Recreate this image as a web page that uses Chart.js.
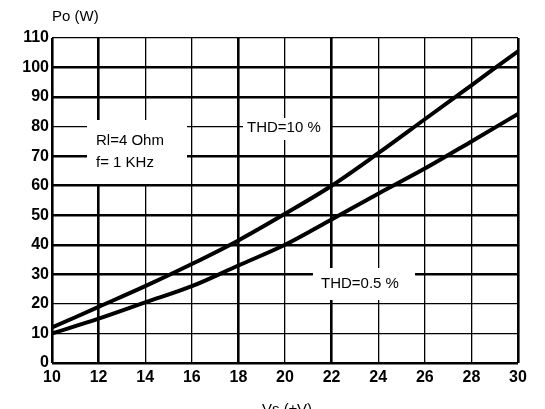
<!DOCTYPE html>
<html>
<head>
<meta charset="utf-8">
<script src="https://cdn.jsdelivr.net/npm/chart.js@4/dist/chart.umd.min.js"></script>
<style>
  html, body { margin: 0; padding: 0; background: #fff; }
  #wrap { position: relative; width: 545px; height: 409px; }
</style>
</head>
<body>
<div id="wrap"><canvas id="chart" width="545" height="409"></canvas></div>
<script>
// datos
const supplyVolts = [10, 12, 14, 16, 18, 20, 22, 24, 26, 28, 30];
const powerThd10 = [12, 19, 26, 33.5, 41.5, 50.5, 60, 71, 82.5, 94, 105.5];
const powerThd05 = [10, 15, 20.5, 26, 33, 40, 48.6, 57.3, 65.8, 75, 84.3];
const yTicks = [0, 10, 20, 30, 40, 50, 60, 70, 80, 90, 100, 110];
const xTicks = [10, 12, 14, 16, 18, 20, 22, 24, 26, 28, 30];

// grosor de las lineas de la rejilla (como en el original escaneado)
const thickY = [0, 30, 40, 50, 60, 70, 90, 100];
const thickX = [10, 12, 18, 22, 30];

const FONT = '"Liberation Sans", Arial, sans-serif';

// Cajas de texto blancas sobre la rejilla
const labelsPlugin = {
    id: 'labels',
    afterDatasetsDraw(chart) {
        const ctx = chart.ctx;
        ctx.save();
        ctx.fillStyle = '#fff';
        ctx.fillRect(87, 120, 100, 64);
        ctx.fillRect(243, 118, 87, 22);
        ctx.fillRect(313, 268, 102, 32);

        ctx.fillStyle = '#000';
        ctx.font = '15px ' + FONT;
        ctx.textBaseline = 'middle';
        ctx.textAlign = 'left';
        ctx.fillText('Rl=4 Ohm', 96, 141);
        ctx.fillText('f= 1 KHz', 96, 163);
        ctx.fillText('THD=10 %', 247, 128);
        ctx.fillText('THD=0.5 %', 321, 284);

        // titulos de ejes
        ctx.fillText('Po (W)', 52, 17);
        ctx.textAlign = 'center';
        ctx.fillText('Vs (\u00b1V)', 287, 410);
        ctx.restore();
    }
};

function loadChart() {
    const ctx = document.getElementById('chart');
    const toPoints = arr => arr.map((v, i) => ({ x: supplyVolts[i], y: v }));

    new Chart(ctx, {
        type: 'line',
        data: {
            datasets: [
                { label: 'THD=10 %', data: toPoints(powerThd10) },
                { label: 'THD=0.5 %', data: toPoints(powerThd05) }
            ]
        },
        options: {
            responsive: false,
            animation: false,
            devicePixelRatio: 1,
            layout: { padding: { top: 38, right: 27, left: 0, bottom: 0 } },
            elements: {
                line: { borderColor: '#000', borderWidth: 4, tension: 0.4, cubicInterpolationMode: 'monotone' },
                point: { radius: 0 }
            },
            plugins: {
                legend: { display: false },
                tooltip: { enabled: false }
            },
            scales: {
                x: {
                    type: 'linear',
                    min: 10,
                    max: 30,
                    afterBuildTicks: s => { s.ticks = xTicks.map(v => ({ value: v })); },
                    afterFit: s => { s.height = 46; },
                    border: { display: false },
                    grid: {
                        color: '#000',
                        drawTicks: false,
                        lineWidth: c => thickX.includes(c.tick.value) ? 2.6 : 1.3
                    },
                    ticks: {
                        color: '#000',
                        padding: 5,
                        maxRotation: 0,
                        font: { family: FONT, size: 16, weight: 'bold' }
                    }
                },
                y: {
                    min: 0,
                    max: 110,
                    afterBuildTicks: s => { s.ticks = yTicks.map(v => ({ value: v })); },
                    afterFit: s => { s.width = 52; },
                    border: { display: false },
                    grid: {
                        color: '#000',
                        drawTicks: false,
                        lineWidth: c => thickY.includes(c.tick.value) ? 2.6 : 1.3
                    },
                    ticks: {
                        color: '#000',
                        padding: 3,
                        font: { family: FONT, size: 16, weight: 'bold' }
                    }
                }
            }
        },
        plugins: [labelsPlugin]
    });
}

loadChart();
</script>
</body>
</html>
